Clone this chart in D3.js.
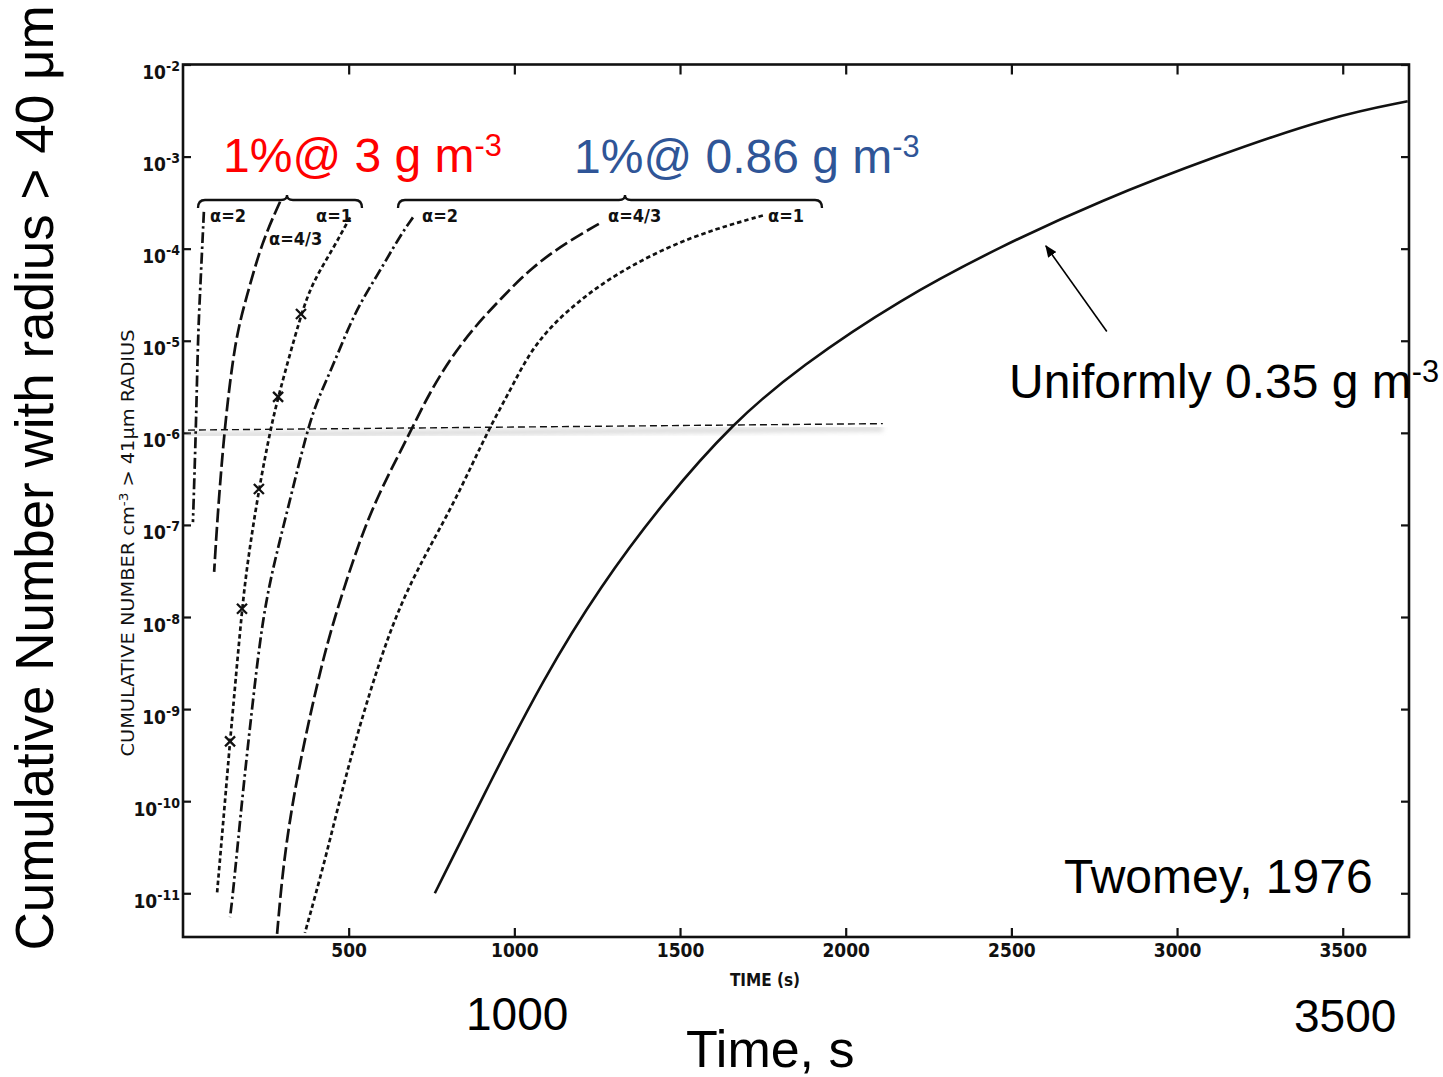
<!DOCTYPE html>
<html>
<head>
<meta charset="utf-8">
<script src="https://d3js.org/d3.v7.min.js"></script>
<style>
  body { margin: 0; background: #fff; }
  svg { display: block; }
  .scan { font-family: "Liberation Sans Narrow", "DejaVu Sans Condensed", sans-serif; font-weight: bold; fill: #111; }
  .slide { font-family: "Liberation Sans", Arial, sans-serif; }
</style>
</head>
<body>
<div id="chart"></div>
<script>
// Twomey (1976): cumulative number of drops > 41 um radius against time.
// Times in s, numbers as log10(cm^-3).

const timeTicks = [500, 1000, 1500, 2000, 2500, 3000, 3500];
const decadeExps = [-2, -3, -4, -5, -6, -7, -8, -9, -10, -11];

// 1% @ 3 g m-3
const red2Time = [63, 51, 45, 39, 30];
const red2Exp = [-3.60, -4.51, -4.98, -5.97, -6.97];
const red43Time = [293, 238, 193, 157, 124, 103, 94];
const red43Exp = [-3.49, -3.93, -4.51, -4.98, -5.98, -6.97, -7.51];
const red1Time = [504, 453, 392, 356, 287, 263, 229, 196, 178, 151, 142, 127, 103];
const red1Exp = [-3.66, -4.00, -4.36, -4.71, -5.61, -5.98, -6.61, -7.37, -7.91, -9.00, -9.35, -9.99, -10.99];
const red1MarkTime = [356, 287, 229, 178, 142];
const red1MarkExp = [-4.71, -5.61, -6.61, -7.91, -9.35];

// 1% @ 0.86 g m-3
const blue2Time = [694, 655, 585, 519, 453, 407, 374, 314, 278, 241, 208, 178, 151, 142];
const blue2Exp = [-3.66, -3.86, -4.30, -4.68, -5.27, -5.63, -5.98, -6.86, -7.37, -7.98, -9.00, -9.99, -11.00, -11.26];
const blue43Time = [1255, 1159, 1056, 957, 875, 806, 745, 694, 655, 594, 534, 453, 413, 368, 332, 302, 284];
const blue43Exp = [-3.73, -3.93, -4.19, -4.55, -4.87, -5.20, -5.56, -5.93, -6.21, -6.64, -7.15, -8.05, -8.60, -9.32, -9.98, -10.70, -11.44];
const blue1Time = [1750, 1611, 1461, 1310, 1207, 1107, 1041, 987, 926, 872, 806, 730, 655, 594, 534, 480, 429, 368];
const blue1Exp = [-3.64, -3.78, -3.98, -4.27, -4.53, -4.85, -5.16, -5.54, -5.94, -6.35, -6.84, -7.33, -7.87, -8.47, -9.17, -9.88, -10.64, -11.43];

// uniformly 0.35 g m-3
const uniTime = [760, 926, 1086, 1258, 1454, 1660, 1862, 2164, 2465, 2767, 3120, 3470, 3696];
const uniExp = [-11.00, -9.80, -8.68, -7.67, -6.73, -5.89, -5.28, -4.55, -3.98, -3.48, -2.99, -2.56, -2.40];

// 1e-6 reference line (slightly tilted in the scan)
const refTime = [15, 2112];
const refExp = [-5.97, -5.90];

// arrow to the uniform curve: [tip, tail]
const arrowTime = [2604, 2788];
const arrowExp = [-3.97, -4.90];

const W = 1443, H = 1077;

const svg = d3.select("#chart")
  .append("svg")
  .attr("width", W)
  .attr("height", H);

svg.append("rect").attr("width", W).attr("height", H).attr("fill", "#fff");

const x = d3.scaleLinear().domain([0, 3700]).range([183, 1409]);
const y = d3.scaleLog().domain([Math.pow(10, -11.475), 1e-2]).range([937, 64.5]);

const pts = (ts, es) => ts.map((t, i) => ({ t, n: Math.pow(10, es[i]) }));

const defs = svg.append("defs");
defs.append("filter").attr("id", "soft")
  .append("feGaussianBlur").attr("stdDeviation", 2.5);
defs.append("marker")
  .attr("id", "head")
  .attr("viewBox", "0 0 12 10")
  .attr("refX", 11).attr("refY", 5)
  .attr("markerWidth", 12).attr("markerHeight", 10)
  .attr("markerUnits", "userSpaceOnUse")
  .attr("orient", "auto")
  .append("path").attr("d", "M0,0 L12,5 L0,10 Z").attr("fill", "#000");

// frame
svg.append("rect")
  .attr("x", x(0)).attr("y", y(1e-2))
  .attr("width", x(3700) - x(0))
  .attr("height", y.range()[0] - y(1e-2))
  .attr("fill", "none").attr("stroke", "#111").attr("stroke-width", 2.6);

// ticks, all pointing into the plot
const tickStyle = g => {
  g.select(".domain").remove();
  g.selectAll(".tick line").attr("stroke", "#111").attr("stroke-width", 2.2);
};

const xBottom = svg.append("g")
  .attr("transform", `translate(0,${y.range()[0]})`)
  .call(d3.axisBottom(x).tickValues(timeTicks).tickSizeInner(-9).tickSizeOuter(0).tickPadding(7).tickFormat(d3.format("d")))
  .call(tickStyle);
xBottom.selectAll(".tick text")
  .attr("class", "scan")
  .style("font-size", "19px")
  .attr("fill", "#111");

svg.append("g")
  .attr("transform", `translate(0,${y(1e-2)})`)
  .call(d3.axisTop(x).tickValues(timeTicks).tickSizeInner(-10).tickSizeOuter(0).tickFormat(""))
  .call(tickStyle);

const decades = decadeExps.map(e => Math.pow(10, e));

const yLeft = svg.append("g")
  .attr("transform", `translate(${x(0)},0)`)
  .call(d3.axisLeft(y).tickValues(decades).tickSizeInner(-8).tickSizeOuter(0).tickFormat(""))
  .call(tickStyle);

yLeft.selectAll(".tick").each(function (d) {
  const t = d3.select(this).append("text")
    .attr("class", "scan")
    .attr("x", -3).attr("y", 14)
    .attr("text-anchor", "end")
    .style("font-size", "19px");
  t.append("tspan").text("10");
  t.append("tspan").attr("dy", -8).style("font-size", "14px")
    .text("-" + Math.round(-Math.log10(d)));
});

svg.append("g")
  .attr("transform", `translate(${x(3700)},0)`)
  .call(d3.axisRight(y).tickValues(decades).tickSizeInner(-8).tickSizeOuter(0).tickFormat(""))
  .call(tickStyle);

// scan axis titles
svg.append("text")
  .attr("class", "scan")
  .attr("x", 765).attr("y", 986)
  .attr("text-anchor", "middle")
  .style("font-size", "17px")
  .text("TIME (s)");

const yt = svg.append("text")
  .attr("class", "scan")
  .attr("transform", "translate(134,543) rotate(-90)")
  .attr("text-anchor", "middle")
  .attr("textLength", 427)
  .attr("lengthAdjust", "spacingAndGlyphs")
  .style("font-size", "17px")
  .style("font-weight", "normal");
yt.append("tspan").text("CUMULATIVE  NUMBER  cm");
yt.append("tspan").attr("dy", -6).style("font-size", "12px").text("-3");
yt.append("tspan").attr("dy", 6).text(" > 41\u03bcm  RADIUS");

// reference line at ~1e-6 with its grey smudge
const ref = pts(refTime, refExp);
const refLine = d3.line().x(d => x(d.t)).y(d => y(d.n));
svg.append("path")
  .attr("d", refLine(ref))
  .attr("transform", "translate(0,5)")
  .attr("stroke", "#bbb").attr("stroke-width", 5).attr("fill", "none")
  .attr("filter", "url(#soft)").attr("opacity", 0.6);
svg.append("path")
  .attr("d", refLine(ref))
  .attr("stroke", "#111").attr("stroke-width", 1.4).attr("fill", "none")
  .attr("stroke-dasharray", "7,4");

// curves
const DASHDOT = "11,3.5,2.5,3.5";
const LONG = "14,4.5";
const SHORT = "4.5,3";

const curves = [
  { t: red2Time, e: red2Exp, dash: DASHDOT },
  { t: red43Time, e: red43Exp, dash: LONG },
  { t: red1Time, e: red1Exp, dash: SHORT },
  { t: blue2Time, e: blue2Exp, dash: DASHDOT },
  { t: blue43Time, e: blue43Exp, dash: LONG },
  { t: blue1Time, e: blue1Exp, dash: SHORT },
  { t: uniTime, e: uniExp, dash: null }
];

const line = d3.line()
  .x(d => x(d.t))
  .y(d => y(d.n))
  .curve(d3.curveBasis);

svg.append("g")
  .selectAll("path")
  .data(curves)
  .join("path")
  .attr("d", c => line(pts(c.t, c.e)))
  .attr("fill", "none")
  .attr("stroke", "#111")
  .attr("stroke-width", c => c.dash ? 2.7 : 2.6)
  .attr("stroke-dasharray", c => c.dash);

// x markers on the red alpha=1 curve
svg.append("g")
  .selectAll("path")
  .data(pts(red1MarkTime, red1MarkExp))
  .join("path")
  .attr("transform", d => `translate(${x(d.t)},${y(d.n)})`)
  .attr("d", "M-5,-5L5,5M-5,5L5,-5")
  .attr("stroke", "#111").attr("stroke-width", 2.3);

// group brackets
function bracket(x0, x1, xc, yb) {
  return `M${x0},${yb + 8} Q${x0},${yb} ${x0 + 7},${yb} L${xc - 6},${yb} Q${xc},${yb} ${xc},${yb - 5} ` +
    `Q${xc},${yb} ${xc + 6},${yb} L${x1 - 7},${yb} Q${x1},${yb} ${x1},${yb + 8}`;
}
svg.append("path").attr("d", bracket(198, 362, 287, 200))
  .attr("fill", "none").attr("stroke", "#111").attr("stroke-width", 2.3);
svg.append("path").attr("d", bracket(398, 822, 625, 200))
  .attr("fill", "none").attr("stroke", "#111").attr("stroke-width", 2.3);

const alphaLabels = [
  ["\u03b1=2", 210, 222], ["\u03b1=4/3", 269, 245], ["\u03b1=1", 316, 222],
  ["\u03b1=2", 422, 222], ["\u03b1=4/3", 608, 222], ["\u03b1=1", 768, 222]
];
svg.append("g")
  .selectAll("text")
  .data(alphaLabels)
  .join("text")
  .attr("class", "scan")
  .attr("x", d => d[1])
  .attr("y", d => d[2])
  .style("font-size", "18px")
  .text(d => d[0]);

// arrow
const ar = pts(arrowTime, arrowExp);
svg.append("line")
  .attr("x1", x(ar[1].t)).attr("y1", y(ar[1].n))
  .attr("x2", x(ar[0].t)).attr("y2", y(ar[0].n))
  .attr("stroke", "#000").attr("stroke-width", 1.6)
  .attr("marker-end", "url(#head)");

// slide overlay text
function supText(xp, yp, size, color, main, sup) {
  const t = svg.append("text")
    .attr("class", "slide")
    .attr("x", xp).attr("y", yp)
    .attr("fill", color)
    .style("font-size", size + "px");
  t.append("tspan").text(main);
  if (sup) t.append("tspan").attr("dy", -size * 0.33).style("font-size", (size * 0.64) + "px").text(sup);
  return t;
}
supText(223, 172, 48, "#ff0000", "1%@ 3 g m", "-3");
supText(574, 173, 48, "#2f5597", "1%@ 0.86 g m", "-3");
supText(1009, 398, 48, "#000", "Uniformly 0.35 g m", "-3");
supText(1064, 893, 48, "#000", "Twomey, 1976");
supText(466, 1030, 46, "#000", "1000");
supText(1294, 1032, 46, "#000", "3500");
supText(686, 1067, 52, "#000", "Time, s");

svg.append("text")
  .attr("class", "slide")
  .attr("transform", "translate(53,478) rotate(-90)")
  .attr("text-anchor", "middle")
  .style("font-size", "53px")
  .attr("fill", "#000")
  .text("Cumulative Number with radius > 40 \u03bcm");
</script>
</body>
</html>
